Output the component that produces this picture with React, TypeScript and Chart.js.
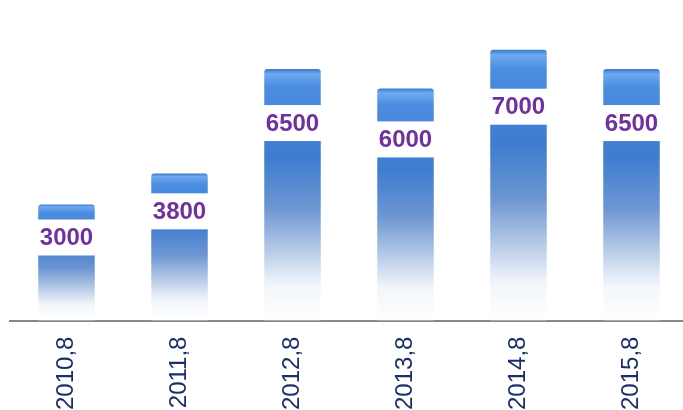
import React, { useEffect, useRef } from "react";
import { Chart, registerables } from "chart.js";

Chart.register(...registerables);

const categories = ["2010,8", "2011,8", "2012,8", "2013,8", "2014,8", "2015,8"];
const values = [3000, 3800, 6500, 6000, 7000, 6500];
const labelTexts = ["3000", "3800", "6500", "6000", "7000", "6500"];

const FONT = '"Liberation Sans", Arial, sans-serif';

const barLabelPlugin = {
  id: "barLabels",
  afterDatasetsDraw(chart: any) {
    const ctx = chart.ctx;
    const meta = chart.getDatasetMeta(0);
    ctx.save();
    meta.data.forEach((bar: any, i: number) => {
      const v = values[i];
      const cy = bar.y + 15 + v * 0.006;
      const w = 70;
      const h = 36;
      ctx.fillStyle = "#ffffff";
      ctx.fillRect(bar.x - w / 2, cy - h / 2, w, h);
      ctx.fillStyle = "#7030A0";
      ctx.font = "bold 24px " + FONT;
      ctx.textAlign = "center";
      ctx.textBaseline = "middle";
      ctx.fillText(labelTexts[i], bar.x, cy + 1);
    });
    ctx.restore();
  },
};

export default function App() {
  const ref = useRef<HTMLCanvasElement | null>(null);
  useEffect(() => {
    const canvas = ref.current;
    if (!canvas) return;
    const chart = new Chart(canvas, {
      type: "bar",
      data: {
        labels: categories,
        datasets: [
          {
            data: values,
            barPercentage: 0.5,
            categoryPercentage: 1,
            borderRadius: { topLeft: 3, topRight: 3, bottomLeft: 0, bottomRight: 0 },
            borderSkipped: "bottom",
            backgroundColor: (c: any) => {
              const ch = c.chart;
              const area = ch.chartArea;
              if (!area) return "#3E7CD0";
              const ys = ch.scales.y;
              const v = c.raw ?? 0;
              const top = ys.getPixelForValue(v);
              const bottom = ys.getPixelForValue(0);
              const g = ch.ctx.createLinearGradient(0, top, 0, bottom);
              g.addColorStop(0, "#3A78CC");
              g.addColorStop(0.02, "#6EAAF0");
              g.addColorStop(0.07, "#4B8DE0");
              g.addColorStop(0.35, "#3E7CD0");
              g.addColorStop(0.55, "#6C96D2");
              g.addColorStop(0.72, "#B6CAE7");
              g.addColorStop(0.86, "#F2F6FB");
              g.addColorStop(1, "#FFFFFF");
              return g;
            },
          },
        ],
      },
      options: {
        responsive: false,
        animation: false,
        devicePixelRatio: 1,
        layout: { padding: { left: 10, right: 0, top: 11, bottom: -8 } },
        plugins: {
          legend: { display: false },
          tooltip: { enabled: false },
          title: { display: false },
        },
        scales: {
          y: { display: false, min: 0, max: 8000 },
          x: {
            grid: { display: false },
            border: { display: true, color: "#888888", width: 2 },
            ticks: {
              minRotation: 90,
              maxRotation: 90,
              padding: 8,
              color: "#1B2F6B",
              font: { family: FONT, size: 24 },
            },
          },
        },
      },
      plugins: [barLabelPlugin],
    });
    return () => chart.destroy();
  }, []);
  return (
    <div
      style={{
        position: "absolute",
        left: 0,
        top: 0,
        width: 683,
        height: 410,
        overflow: "hidden",
        background: "#ffffff",
      }}
    >
      <canvas ref={ref} width={688} height={410} style={{ display: "block" }} />
    </div>
  );
}
